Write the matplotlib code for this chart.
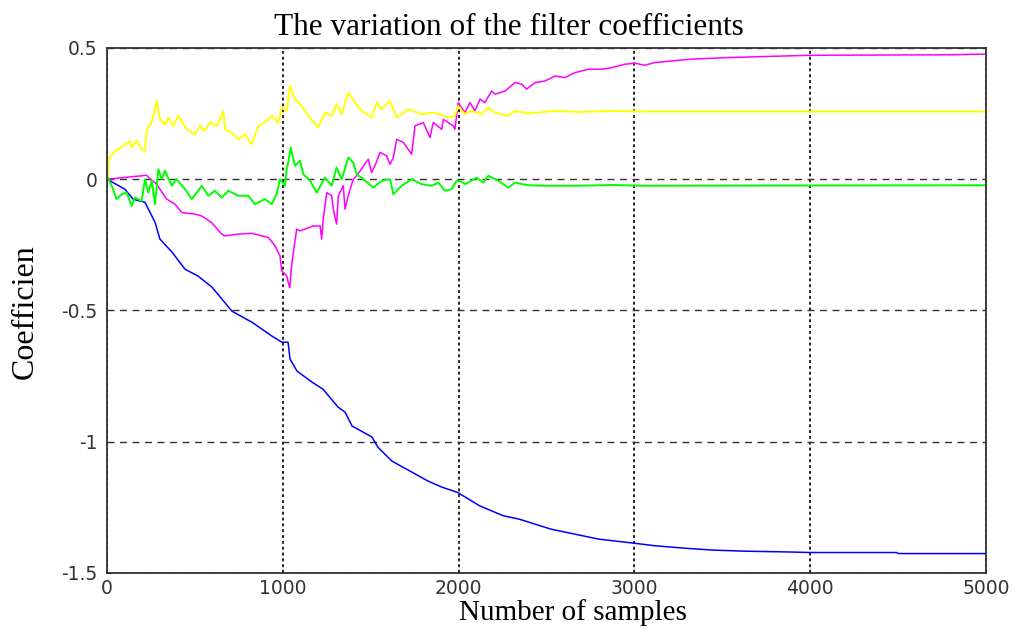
import matplotlib
matplotlib.use("Agg")
import matplotlib.pyplot as plt

# values
blue_x = [0, 102, 148, 216, 273, 301, 370, 444, 518, 597, 654, 711, 825, 939, 995, 1030, 1041, 1081,
          1166, 1229, 1314, 1354, 1394, 1507, 1541, 1621, 1735, 1826, 1905, 1994, 2119, 2254, 2345,
          2525, 2661, 2796, 3004, 3113, 3294, 3452, 3632, 3881, 4001, 4491, 4502, 5000]
blue_y = [0, -0.038, -0.076, -0.088, -0.164, -0.228, -0.278, -0.343, -0.369, -0.411, -0.457, -0.503,
          -0.545, -0.598, -0.621, -0.621, -0.685, -0.731, -0.773, -0.800, -0.868, -0.887, -0.940,
          -0.982, -1.021, -1.074, -1.116, -1.150, -1.173, -1.193, -1.244, -1.282, -1.295, -1.333,
          -1.352, -1.371, -1.387, -1.396, -1.406, -1.413, -1.417, -1.420, -1.422, -1.422, -1.426, -1.426]

magenta_x = [0, 226, 245, 273, 301, 340, 387, 425, 500, 539, 595, 652, 671, 747, 823, 918, 956, 984,
             994, 1022, 1031, 1040, 1050, 1060, 1079, 1098, 1173, 1212, 1221, 1230, 1250, 1278, 1287,
             1306, 1316, 1344, 1354, 1372, 1401, 1420, 1486, 1505, 1524, 1553, 1591, 1610, 1629, 1648,
             1686, 1733, 1752, 1799, 1837, 1856, 1904, 1913, 1970, 1979, 1998, 2036, 2065, 2093, 2122,
             2150, 2188, 2207, 2264, 2321, 2359, 2387, 2434, 2491, 2548, 2605, 2662, 2738, 2814, 2871,
             2946, 3003, 3060, 3113, 3316, 3519, 3722, 3996, 4819, 4920, 5000]
magenta_y = [0, 0.015, 0.0, -0.013, -0.038, -0.076, -0.095, -0.127, -0.133, -0.140, -0.165, -0.209,
             -0.216, -0.209, -0.206, -0.222, -0.254, -0.292, -0.349, -0.368, -0.393, -0.413, -0.330,
             -0.279, -0.190, -0.197, -0.178, -0.178, -0.228, -0.152, -0.051, -0.063, -0.114, -0.171,
             -0.063, -0.025, -0.114, -0.063, 0.0, 0.013, 0.076, 0.025, 0.051, 0.102, 0.089, 0.057,
             0.083, 0.152, 0.140, 0.095, 0.203, 0.216, 0.159, 0.216, 0.190, 0.228, 0.203, 0.190,
             0.292, 0.254, 0.292, 0.260, 0.305, 0.292, 0.336, 0.324, 0.336, 0.368, 0.362, 0.343,
             0.368, 0.374, 0.393, 0.387, 0.406, 0.419, 0.419, 0.425, 0.438, 0.442, 0.434, 0.444,
             0.457, 0.463, 0.467, 0.472, 0.474, 0.476, 0.476]

yellow_x = [0, 4, 8, 27, 64, 93, 131, 140, 169, 197, 216, 226, 254, 283, 301, 330, 349, 377, 406, 453,
            500, 529, 557, 586, 624, 662, 671, 709, 747, 785, 823, 861, 899, 937, 974, 994, 1022, 1041,
            1069, 1107, 1145, 1202, 1240, 1278, 1306, 1335, 1373, 1411, 1449, 1506, 1534, 1562, 1610,
            1648, 1714, 1790, 1866, 1941, 1979, 1998, 2036, 2074, 2131, 2169, 2207, 2283, 2321, 2397,
            2548, 2681, 2871, 3060, 5000]
yellow_y = [0, 0.006, 0.076, 0.095, 0.114, 0.127, 0.146, 0.121, 0.146, 0.114, 0.108, 0.190, 0.216,
            0.298, 0.228, 0.209, 0.235, 0.203, 0.241, 0.190, 0.171, 0.203, 0.184, 0.216, 0.203, 0.260,
            0.190, 0.178, 0.152, 0.171, 0.133, 0.203, 0.216, 0.241, 0.216, 0.273, 0.260, 0.355, 0.305,
            0.279, 0.241, 0.197, 0.254, 0.241, 0.286, 0.248, 0.330, 0.292, 0.260, 0.235, 0.292, 0.267,
            0.298, 0.235, 0.267, 0.248, 0.254, 0.235, 0.241, 0.279, 0.248, 0.260, 0.248, 0.273, 0.254,
            0.241, 0.260, 0.251, 0.260, 0.256, 0.260, 0.258, 0.258]

green_x = [0, 4, 27, 55, 84, 112, 140, 159, 197, 216, 235, 254, 273, 292, 311, 330, 368, 396, 444, 482,
           539, 576, 614, 652, 690, 747, 804, 842, 899, 937, 965, 984, 1012, 1022, 1031, 1045, 1069,
           1098, 1117, 1155, 1193, 1240, 1278, 1306, 1335, 1373, 1401, 1420, 1458, 1515, 1562, 1610,
           1629, 1676, 1733, 1790, 1847, 1885, 1922, 1960, 1989, 2008, 2036, 2103, 2141, 2169, 2226,
           2283, 2321, 2397, 2491, 2681, 2871, 3060, 5000]
green_y = [0, 0.006, -0.025, -0.076, -0.057, -0.051, -0.102, -0.070, -0.083, 0.0, -0.051, -0.006,
           -0.095, 0.038, 0.0, 0.032, -0.025, 0.0, -0.038, -0.076, -0.025, -0.063, -0.044, -0.070,
           -0.044, -0.063, -0.063, -0.095, -0.076, -0.095, -0.057, 0.0, -0.025, 0.038, 0.063, 0.121,
           0.051, 0.070, 0.019, -0.006, -0.051, 0.006, -0.025, 0.044, 0.0, 0.083, 0.063, 0.019, 0.0,
           -0.032, -0.006, 0.0, -0.057, -0.025, 0.0, -0.019, -0.025, -0.013, -0.044, -0.038, -0.006,
           -0.006, -0.019, 0.006, -0.013, 0.013, -0.006, -0.032, -0.013, -0.023, -0.025, -0.025,
           -0.022, -0.025, -0.023]

x_ticks = [0, 1000, 2000, 3000, 4000, 5000]
y_ticks = [-1.5, -1, -0.5, 0, 0.5]
y_tick_labels = ["-1.5", "-1", "-0.5", "0", "0.5"]

serif = ["Liberation Serif", "DejaVu Serif"]

fig = plt.figure(figsize=(10.23, 6.26), dpi=100)
ax = fig.add_axes([0.1046, 0.0847, 0.8592, 0.8387])

ax.plot(blue_x, blue_y, color="#0000ff", lw=1.1)
ax.plot(magenta_x, magenta_y, color="#ff00ff", lw=1.1)
ax.plot(yellow_x, yellow_y, color="#ffff00", lw=1.4)
ax.plot(green_x, green_y, color="#00ff00", lw=1.4)

ax.set_xlim(0, 5000)
ax.set_ylim(-1.5, 0.5)
ax.set_xticks(x_ticks)
ax.set_yticks(y_ticks)
ax.set_yticklabels(y_tick_labels)

ax.grid(axis="x", color="#222222", linestyle=(0, (1.5, 1.5)), lw=1.4)
ax.grid(axis="y", color="#333333", linestyle=(0, (5, 4)), lw=1.0)
ax.set_axisbelow(True)

ax.tick_params(direction="in", length=3, labelsize=13.5, labelcolor="#333333", color="#333333")
ax.tick_params(axis="y", pad=7)
ax.tick_params(axis="x", pad=4)
for side in ["left", "bottom", "top", "right"]:
    ax.spines[side].set_color("#333333")
    ax.spines[side].set_linewidth(1.3)

fig.text(0.4976, 1 - 35 / 626, "The variation of the filter coefficients", family=serif,
         fontsize=22.5, ha="center", va="baseline")
fig.text(0.560, 1 - 620 / 626, "Number of samples", family=serif, fontsize=21,
         ha="center", va="baseline")
fig.text(40 / 1023, 1 - 312 / 626, "Coefficien", family=serif, fontsize=23,
         rotation=90, ha="right", va="center")

fig.savefig("out.png", dpi=100)
